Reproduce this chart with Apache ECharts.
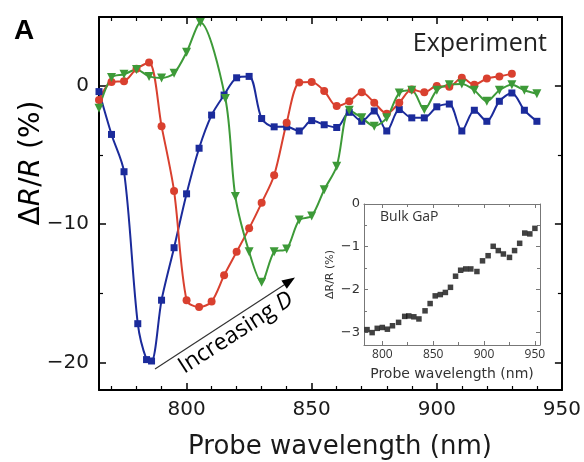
<!DOCTYPE html>
<html>
<head>
<meta charset="utf-8">
<script src="https://cdn.jsdelivr.net/npm/echarts@6/dist/echarts.min.js"></script>
<style>
html, body { margin: 0; padding: 0; background: #fff; }
#main { width: 584px; height: 462px; }
</style>
</head>
<body>
<div id="main"></div>
<script>
// main panel, dR/R (%) against probe wavelength (nm)
var blueWl = [765, 770, 775, 780.5, 784, 786, 790, 795, 800, 805, 810, 815, 820, 825, 830, 835, 840, 845, 850, 855, 860, 865, 870, 875, 880, 885, 890, 895, 900, 905, 910, 915, 920, 925, 930, 935, 940];
var blueDr = [-0.4, -3.5, -6.2, -17.2, -19.8, -19.9, -15.5, -11.7, -7.8, -4.5, -2.1, -0.65, 0.6, 0.7, -2.35, -2.95, -2.95, -3.25, -2.5, -2.8, -3.0, -1.9, -2.55, -1.8, -3.25, -1.7, -2.3, -2.3, -1.5, -1.3, -3.25, -1.75, -2.55, -1.1, -0.5, -1.75, -2.55];

var redWl = [765, 770, 775, 780, 785, 790, 795, 800, 805, 810, 815, 820, 825, 830, 835, 840, 845, 850, 855, 860, 865, 870, 875, 880, 885, 890, 895, 900, 905, 910, 915, 920, 925, 930];
var redDr = [-1.0, 0.3, 0.35, 1.25, 1.7, -2.9, -7.6, -15.5, -16.0, -15.6, -13.7, -12.0, -10.3, -8.45, -6.45, -2.65, 0.25, 0.3, -0.35, -1.45, -1.1, -0.45, -1.2, -2.0, -1.2, -0.25, -0.45, 0.0, -0.05, 0.6, 0.1, 0.55, 0.7, 0.9];

var greenWl = [765, 770, 775, 780, 785, 790, 795, 800, 805.5, 815.5, 819.5, 825, 830, 835, 840, 845, 850, 855, 860, 865, 870, 875, 880, 885, 890, 895, 900, 905, 910, 915, 920, 925, 930, 935, 940];
var greenDr = [-1.6, 0.62, 0.85, 1.2, 0.7, 0.58, 0.93, 2.45, 4.6, -0.9, -8.0, -12.0, -14.2, -12.0, -11.8, -9.7, -9.4, -7.5, -5.8, -1.75, -2.3, -2.9, -2.3, -0.5, -0.3, -1.7, -0.3, 0.1, 0.15, -0.3, -1.1, -0.3, 0.1, -0.3, -0.55];

// inset, bulk GaP
var bulkWl = [785, 790, 795, 800, 805, 810, 816, 822, 826, 831, 836, 842, 847, 852, 857, 862, 867, 872, 877, 882, 887, 893, 898.5, 904, 909, 914, 919, 925, 930, 935, 940, 945, 950];
var bulkDr = [-2.94, -3.01, -2.91, -2.89, -2.93, -2.85, -2.77, -2.63, -2.62, -2.64, -2.69, -2.5, -2.33, -2.15, -2.12, -2.07, -1.95, -1.69, -1.55, -1.52, -1.52, -1.58, -1.33, -1.21, -0.99, -1.09, -1.17, -1.25, -1.09, -0.92, -0.68, -0.7, -0.57];

function pairs(xs, ys) {
  return xs.map(function (x, i) { return [x, ys[i]]; });
}

var chartDom = document.getElementById('main');
var myChart = echarts.init(chartDom, null, { renderer: 'canvas' });

var sans = 'DejaVu Sans';
var soft = 'Open Sans';

function mainX(pos, showLabel) {
  return {
    type: 'value', gridIndex: 0, position: pos, min: 765, max: 950, splitNumber: 4,
    axisLine: { onZero: false, lineStyle: { color: '#000', width: 2 } },
    axisTick: { inside: true, length: 7, lineStyle: { color: '#000', width: 1.5 } },
    minorTick: { show: true, splitNumber: 5, length: 4, lineStyle: { color: '#000', width: 1.2 } },
    splitLine: { show: false },
    axisLabel: {
      show: showLabel, margin: 10, fontFamily: sans, fontSize: 20, color: '#1a1a1a',
      showMinLabel: false, showMaxLabel: true,
      formatter: function (v) { return v % 50 === 0 ? String(v) : ''; }
    }
  };
}
function mainY(pos, showLabel) {
  return {
    type: 'value', gridIndex: 0, position: pos, min: -22, max: 5, splitNumber: 3,
    axisLine: { onZero: false, lineStyle: { color: '#000', width: 2 } },
    axisTick: { inside: true, length: 7, lineStyle: { color: '#000', width: 1.5 } },
    minorTick: { show: true, splitNumber: 2, length: 4, lineStyle: { color: '#000', width: 1.2 } },
    splitLine: { show: false },
    axisLabel: {
      show: showLabel, margin: 10, fontFamily: sans, fontSize: 20, color: '#1a1a1a',
      showMinLabel: false, showMaxLabel: false,
      formatter: function (v) { return v % 10 === 0 ? String(v).replace('-', '\u2212') : ''; }
    }
  };
}
function insetX(pos, showLabel) {
  return {
    type: 'value', gridIndex: 1, position: pos, min: 782, max: 955, splitNumber: 4, z: 8,
    axisLine: { onZero: false, lineStyle: { color: '#777', width: 1 } },
    axisTick: { inside: true, length: 4, lineStyle: { color: '#777', width: 1 } },
    minorTick: { show: true, splitNumber: 2, length: 3, lineStyle: { color: '#777', width: 1 } },
    splitLine: { show: false },
    name: showLabel ? 'Probe wavelength (nm)' : '',
    nameLocation: 'middle', nameGap: 22,
    nameTextStyle: { fontFamily: sans, fontSize: 14, color: '#333' },
    axisLabel: {
      show: showLabel, margin: 4, fontFamily: soft, fontSize: 12, color: '#333',
      showMinLabel: false, showMaxLabel: false,
      formatter: function (v) { return v % 50 === 0 ? String(v) : ''; }
    }
  };
}
function insetY(pos, showLabel) {
  return {
    type: 'value', gridIndex: 1, position: pos, min: -3.3, max: 0, splitNumber: 4, z: 8,
    axisLine: { onZero: false, lineStyle: { color: '#777', width: 1 } },
    axisTick: { inside: true, length: 4, lineStyle: { color: '#777', width: 1 } },
    minorTick: { show: true, splitNumber: 2, length: 3, lineStyle: { color: '#777', width: 1 } },
    splitLine: { show: false },
    name: showLabel ? '\u0394R/R (%)' : '',
    nameLocation: 'middle', nameGap: 28, nameRotate: 90,
    nameTextStyle: { fontFamily: sans, fontSize: 11, color: '#333' },
    axisLabel: {
      show: showLabel, margin: 4, fontFamily: sans, fontSize: 13, color: '#333',
      showMinLabel: true, showMaxLabel: true,
      formatter: function (v) { return Number.isInteger(v) ? String(v).replace('-', '\u2212') : ''; }
    }
  };
}

function curve(name, xs, ys, color, symbol, size, rot) {
  return {
    name: name, type: 'line', xAxisIndex: 0, yAxisIndex: 0,
    data: pairs(xs, ys), smooth: 0.3,
    symbol: symbol, symbolSize: size, symbolRotate: rot || 0, showAllSymbol: true,
    lineStyle: { color: color, width: 2 },
    itemStyle: { color: color, borderWidth: 0 }
  };
}

var option = {
  animation: false,
  backgroundColor: '#fff',
  grid: [
    { left: 99, right: 22, top: 17, bottom: 72 },
    { left: 364, top: 204, width: 176, height: 141, show: true, backgroundColor: '#fff', borderWidth: 0, z: 5 }
  ],
  xAxis: [mainX('bottom', true), mainX('top', false), insetX('bottom', true), insetX('top', false)],
  yAxis: [mainY('left', true), mainY('right', false), insetY('left', true), insetY('right', false)],
  series: [
    curve('blue', blueWl, blueDr, '#1b2b9b', 'rect', 7),
    curve('red', redWl, redDr, '#d9402f', 'circle', 8),
    curve('green', greenWl, greenDr, '#3d9a38', 'triangle', 9, 180),
    {
      name: 'Bulk GaP', type: 'scatter', xAxisIndex: 2, yAxisIndex: 2,
      data: pairs(bulkWl, bulkDr), symbol: 'rect', symbolSize: 5.5,
      itemStyle: { color: '#111' }, z: 9
    }
  ],
  graphic: [
    { type: 'text', left: 14, top: 17, style: { text: 'A', font: 'bold 28px "Liberation Sans"', fill: '#000' } },
    {
      type: 'text', x: 547, y: 44, z: 10,
      style: { text: 'Experiment', font: '25px "Open Sans"', fill: '#222', align: 'right', verticalAlign: 'middle' }
    },
    {
      type: 'text', x: 32, y: 163, rotation: Math.PI / 2,
      style: {
        text: '{n|\u0394}{i|R}{n|/}{i|R}{n| (%)}', align: 'center', verticalAlign: 'middle',
        rich: {
          n: { fontFamily: sans, fontSize: 28, color: '#1a1a1a' },
          i: { fontFamily: sans, fontSize: 28, fontStyle: 'italic', color: '#1a1a1a' }
        }
      }
    },
    {
      type: 'text', x: 340, y: 447,
      style: { text: 'Probe wavelength (nm)', font: '26px "DejaVu Sans"', fill: '#1a1a1a', align: 'center', verticalAlign: 'middle' }
    },
    {
      type: 'text', x: 236, y: 333, rotation: 32.8 * Math.PI / 180,
      style: {
        text: '{n|Increasing }{i|D}', align: 'center', verticalAlign: 'middle',
        rich: {
          n: { fontFamily: soft, fontSize: 23, color: '#1a1a1a' },
          i: { fontFamily: soft, fontSize: 23, fontStyle: 'italic', color: '#1a1a1a' }
        }
      }
    },
    { type: 'line', shape: { x1: 155, y1: 369, x2: 287, y2: 283 }, style: { stroke: '#333', lineWidth: 1.2 } },
    { type: 'polygon', shape: { points: [[295, 277.5], [286.8, 288.8], [281.4, 280.4]] }, style: { fill: '#000' } },
    {
      type: 'text', left: 380, top: 210, z: 10,
      style: { text: 'Bulk GaP', font: '14px "Open Sans"', fill: '#333' }
    }
  ]
};

option && myChart.setOption(option);
</script>
</body>
</html>
